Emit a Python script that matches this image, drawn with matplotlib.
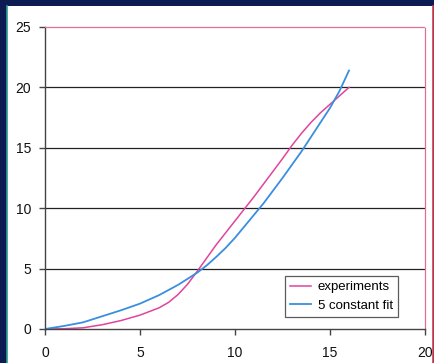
import matplotlib
matplotlib.use("Agg")
import matplotlib.pyplot as plt
from matplotlib.patches import Rectangle
from matplotlib.lines import Line2D

# values
exp_x = [0, 1, 2, 3, 4, 5, 6, 6.5, 7, 7.5, 8, 8.5, 9, 9.5, 10, 10.5, 11,
         11.5, 12, 12.5, 13, 13.5, 14, 14.5, 15, 15.5, 16]
exp_y = [0, 0.02, 0.1, 0.35, 0.7, 1.15, 1.75, 2.2, 2.85, 3.7, 4.75, 5.85,
         6.95, 7.95, 8.95, 9.95, 10.95, 12.0, 13.05, 14.1, 15.2, 16.2, 17.1,
         17.9, 18.6, 19.3, 20.0]

fit_x = [0, 1, 2, 3, 4, 5, 6, 7, 8, 8.5, 9, 9.5, 10, 10.5, 11, 11.5, 12,
         12.5, 13, 13.5, 14, 14.5, 15, 15.5, 16]
fit_y = [0, 0.25, 0.55, 1.05, 1.55, 2.1, 2.8, 3.65, 4.65, 5.25, 5.95, 6.7,
         7.55, 8.5, 9.45, 10.4, 11.45, 12.5, 13.6, 14.7, 15.9, 17.1, 18.3,
         19.7, 21.4]

labels = ["experiments", "5 constant fit"]
x_ticks = [0, 5, 10, 15, 20]
y_ticks = [0, 5, 10, 15, 20, 25]

plt.rcParams["font.family"] = ["Liberation Sans", "DejaVu Sans"]

W, H = 435, 363
fig = plt.figure(figsize=(W / 100, H / 100), dpi=100)
fig.patch.set_facecolor("#0c1c52")

# white slide area with thin coloured edges
fig.patches.append(Rectangle((7 / W, 0), 426 / W, 357 / H,
                             transform=fig.transFigure, facecolor="white",
                             edgecolor="none", zorder=-2))
fig.lines.append(Line2D([7 / W, 7 / W], [0, 357 / H], transform=fig.transFigure,
                        color="#2aa090", lw=1.2, zorder=-1))
fig.lines.append(Line2D([433 / W, 433 / W], [0, 357 / H], transform=fig.transFigure,
                        color="#d04050", lw=1.2, zorder=-1))

ax = fig.add_axes([45 / W, (H - 329) / H, 380 / W, 302 / H])
ax.set_zorder(1)
ax.set_facecolor("white")

ax.plot(exp_x, exp_y, color="#e0449c", lw=1.1, label=labels[0])
ax.plot(fit_x, fit_y, color="#3a8ee0", lw=1.3, label=labels[1])

ax.set_xlim(0, 20)
ax.set_ylim(0, 25)
ax.set_xticks(x_ticks)
ax.set_yticks(y_ticks)

for y in y_ticks[1:-1]:
    ax.axhline(y, color="#222222", lw=0.9, zorder=0.5)

for s in ["left", "bottom"]:
    ax.spines[s].set_color("#444444")
    ax.spines[s].set_linewidth(1.0)
for s in ["top", "right"]:
    ax.spines[s].set_color("#e07090")
    ax.spines[s].set_linewidth(0.9)
    ax.spines[s].set_linestyle((0, (1, 1)))

ax.tick_params(axis="both", direction="out", length=4, width=1.0,
               color="#444444", labelsize=10, labelcolor="#111111")
ax.tick_params(axis="x", pad=8)
ax.tick_params(axis="y", pad=6)

leg = ax.legend(loc="lower right", bbox_to_anchor=(0.929, 0.04), fontsize=9.5,
                frameon=True, fancybox=False, handlelength=1.6,
                handletextpad=0.5, borderpad=0.4, labelspacing=0.45,
                borderaxespad=0)
leg.get_frame().set_edgecolor("#333333")
leg.get_frame().set_linewidth(0.9)

fig.savefig("out.png", dpi=100, facecolor=fig.get_facecolor())
